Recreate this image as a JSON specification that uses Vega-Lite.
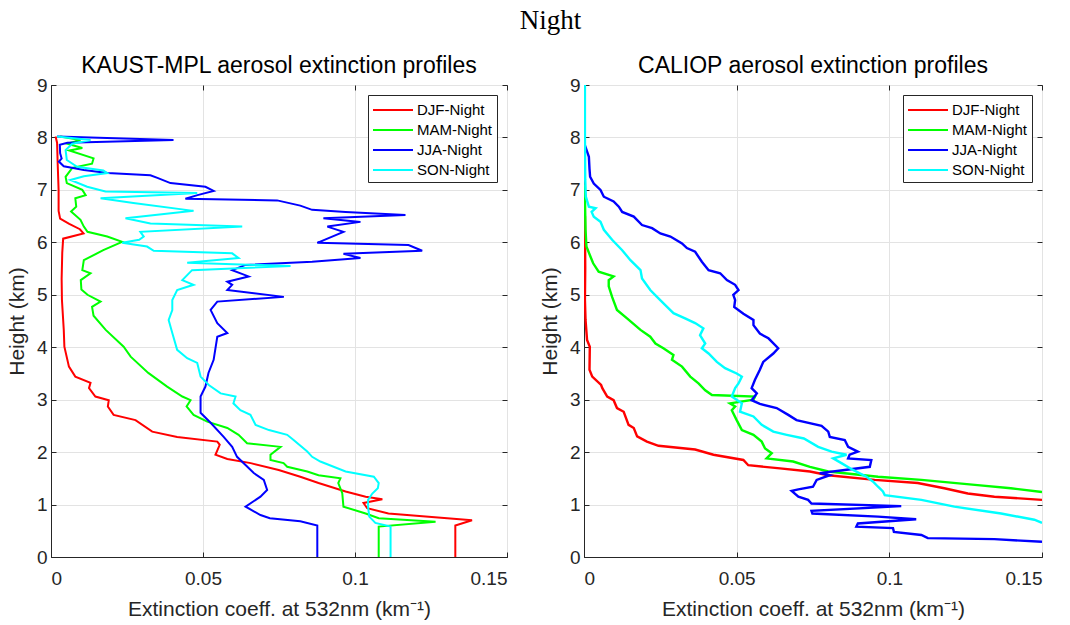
{
  "$schema": "https://vega.github.io/schema/vega-lite/v6.json",
  "background": "white",
  "padding": {"left": 5, "top": 6, "right": 6, "bottom": 2},
  "title": {"text": "Night", "font": "Liberation Serif", "fontSize": 27, "fontWeight": "normal", "color": "black", "anchor": "middle", "offset": 20, "dx": 25},
  "config": {
    "view": {"stroke": "#262626", "strokeWidth": 1},
    "axis": {"labelFont": "Liberation Sans", "titleFont": "Liberation Sans", "labelFontSize": 19, "titleFontSize": 21, "labelColor": "#262626", "titleColor": "#262626", "titleFontWeight": "normal", "domainColor": "#262626", "tickColor": "#262626", "gridColor": "#e3e3e3", "gridOpacity": 1, "tickSize": -5, "labelPadding": 9, "titlePadding": 9},
    "axisX": {"labelPadding": 17, "titlePadding": 10},
    "legend": {"orient": "top-right", "offset": 10, "fillColor": "white", "strokeColor": "#262626", "padding": 4, "cornerRadius": 0, "symbolType": "M-1,0H3", "symbolSize": 400, "symbolStrokeWidth": 2, "labelOffset": 23, "labelFont": "Liberation Sans", "labelFontSize": 15, "labelColor": "black", "rowPadding": 1, "title": null},
    "title": {"font": "Liberation Sans", "fontSize": 23, "fontWeight": "normal", "color": "black", "offset": -2},
    "line": {"strokeWidth": 2}
  },
  "datasets": {
    "mpl": [
      {"season": "DJF-Night", "ext": 0.0015, "height": 8.02},
      {"season": "DJF-Night", "ext": 0.002, "height": 7.9},
      {"season": "DJF-Night", "ext": 0.0022, "height": 7.5},
      {"season": "DJF-Night", "ext": 0.0025, "height": 7.0},
      {"season": "DJF-Night", "ext": 0.0025, "height": 6.6},
      {"season": "DJF-Night", "ext": 0.003, "height": 6.45},
      {"season": "DJF-Night", "ext": 0.006, "height": 6.35},
      {"season": "DJF-Night", "ext": 0.0095, "height": 6.25},
      {"season": "DJF-Night", "ext": 0.0107, "height": 6.17},
      {"season": "DJF-Night", "ext": 0.004, "height": 6.07},
      {"season": "DJF-Night", "ext": 0.0037, "height": 5.8},
      {"season": "DJF-Night", "ext": 0.0035, "height": 5.3},
      {"season": "DJF-Night", "ext": 0.0036, "height": 4.9},
      {"season": "DJF-Night", "ext": 0.0042, "height": 4.33},
      {"season": "DJF-Night", "ext": 0.0044, "height": 4.01},
      {"season": "DJF-Night", "ext": 0.0059, "height": 3.63},
      {"season": "DJF-Night", "ext": 0.008, "height": 3.44},
      {"season": "DJF-Night", "ext": 0.013, "height": 3.32},
      {"season": "DJF-Night", "ext": 0.0125, "height": 3.22},
      {"season": "DJF-Night", "ext": 0.0146, "height": 3.06},
      {"season": "DJF-Night", "ext": 0.019, "height": 2.99},
      {"season": "DJF-Night", "ext": 0.0187, "height": 2.87},
      {"season": "DJF-Night", "ext": 0.0206, "height": 2.71},
      {"season": "DJF-Night", "ext": 0.0278, "height": 2.61},
      {"season": "DJF-Night", "ext": 0.0333, "height": 2.39},
      {"season": "DJF-Night", "ext": 0.0415, "height": 2.29},
      {"season": "DJF-Night", "ext": 0.0547, "height": 2.2},
      {"season": "DJF-Night", "ext": 0.0555, "height": 2.14},
      {"season": "DJF-Night", "ext": 0.0541, "height": 1.95},
      {"season": "DJF-Night", "ext": 0.058, "height": 1.87},
      {"season": "DJF-Night", "ext": 0.0657, "height": 1.79},
      {"season": "DJF-Night", "ext": 0.0749, "height": 1.66},
      {"season": "DJF-Night", "ext": 0.082, "height": 1.53},
      {"season": "DJF-Night", "ext": 0.088, "height": 1.41},
      {"season": "DJF-Night", "ext": 0.0969, "height": 1.25},
      {"season": "DJF-Night", "ext": 0.1035, "height": 1.15},
      {"season": "DJF-Night", "ext": 0.109, "height": 1.1},
      {"season": "DJF-Night", "ext": 0.1028, "height": 1.03},
      {"season": "DJF-Night", "ext": 0.104, "height": 0.93},
      {"season": "DJF-Night", "ext": 0.111, "height": 0.83},
      {"season": "DJF-Night", "ext": 0.1385, "height": 0.7},
      {"season": "DJF-Night", "ext": 0.133, "height": 0.6},
      {"season": "DJF-Night", "ext": 0.133, "height": 0.0},

      {"season": "MAM-Night", "ext": 0.003, "height": 8.02},
      {"season": "MAM-Night", "ext": 0.0097, "height": 7.95},
      {"season": "MAM-Night", "ext": 0.0054, "height": 7.88},
      {"season": "MAM-Night", "ext": 0.0103, "height": 7.8},
      {"season": "MAM-Night", "ext": 0.006, "height": 7.75},
      {"season": "MAM-Night", "ext": 0.014, "height": 7.6},
      {"season": "MAM-Night", "ext": 0.0135, "height": 7.5},
      {"season": "MAM-Night", "ext": 0.007, "height": 7.42},
      {"season": "MAM-Night", "ext": 0.0048, "height": 7.25},
      {"season": "MAM-Night", "ext": 0.0052, "height": 7.13},
      {"season": "MAM-Night", "ext": 0.0103, "height": 7.0},
      {"season": "MAM-Night", "ext": 0.0114, "height": 6.9},
      {"season": "MAM-Night", "ext": 0.008, "height": 6.84},
      {"season": "MAM-Night", "ext": 0.0083, "height": 6.68},
      {"season": "MAM-Night", "ext": 0.0066, "height": 6.59},
      {"season": "MAM-Night", "ext": 0.0097, "height": 6.43},
      {"season": "MAM-Night", "ext": 0.0108, "height": 6.3},
      {"season": "MAM-Night", "ext": 0.012, "height": 6.2},
      {"season": "MAM-Night", "ext": 0.0185, "height": 6.11},
      {"season": "MAM-Night", "ext": 0.0234, "height": 6.01},
      {"season": "MAM-Night", "ext": 0.0172, "height": 5.85},
      {"season": "MAM-Night", "ext": 0.0108, "height": 5.66},
      {"season": "MAM-Night", "ext": 0.0103, "height": 5.47},
      {"season": "MAM-Night", "ext": 0.013, "height": 5.41},
      {"season": "MAM-Night", "ext": 0.0098, "height": 5.28},
      {"season": "MAM-Night", "ext": 0.01, "height": 5.1},
      {"season": "MAM-Night", "ext": 0.012, "height": 5.0},
      {"season": "MAM-Night", "ext": 0.0163, "height": 4.87},
      {"season": "MAM-Night", "ext": 0.0135, "height": 4.77},
      {"season": "MAM-Night", "ext": 0.014, "height": 4.6},
      {"season": "MAM-Night", "ext": 0.018, "height": 4.33},
      {"season": "MAM-Night", "ext": 0.0239, "height": 4.01},
      {"season": "MAM-Night", "ext": 0.0262, "height": 3.82},
      {"season": "MAM-Night", "ext": 0.032, "height": 3.51},
      {"season": "MAM-Night", "ext": 0.0382, "height": 3.25},
      {"season": "MAM-Night", "ext": 0.0432, "height": 3.06},
      {"season": "MAM-Night", "ext": 0.0459, "height": 2.99},
      {"season": "MAM-Night", "ext": 0.0446, "height": 2.87},
      {"season": "MAM-Night", "ext": 0.0469, "height": 2.71},
      {"season": "MAM-Night", "ext": 0.0514, "height": 2.58},
      {"season": "MAM-Night", "ext": 0.058, "height": 2.46},
      {"season": "MAM-Night", "ext": 0.0617, "height": 2.33},
      {"season": "MAM-Night", "ext": 0.0645, "height": 2.17},
      {"season": "MAM-Night", "ext": 0.0755, "height": 2.1},
      {"season": "MAM-Night", "ext": 0.0722, "height": 1.95},
      {"season": "MAM-Night", "ext": 0.0722, "height": 1.85},
      {"season": "MAM-Night", "ext": 0.0765, "height": 1.79},
      {"season": "MAM-Night", "ext": 0.0777, "height": 1.72},
      {"season": "MAM-Night", "ext": 0.0843, "height": 1.63},
      {"season": "MAM-Night", "ext": 0.088, "height": 1.56},
      {"season": "MAM-Night", "ext": 0.0952, "height": 1.5},
      {"season": "MAM-Night", "ext": 0.0945, "height": 1.41},
      {"season": "MAM-Night", "ext": 0.0958, "height": 1.22},
      {"season": "MAM-Night", "ext": 0.0962, "height": 0.96},
      {"season": "MAM-Night", "ext": 0.1035, "height": 0.83},
      {"season": "MAM-Night", "ext": 0.1078, "height": 0.74},
      {"season": "MAM-Night", "ext": 0.1265, "height": 0.67},
      {"season": "MAM-Night", "ext": 0.1078, "height": 0.58},
      {"season": "MAM-Night", "ext": 0.1078, "height": 0.0},

      {"season": "JJA-Night", "ext": 0.002, "height": 8.02},
      {"season": "JJA-Night", "ext": 0.0403, "height": 7.95},
      {"season": "JJA-Night", "ext": 0.0054, "height": 7.9},
      {"season": "JJA-Night", "ext": 0.0029, "height": 7.86},
      {"season": "JJA-Night", "ext": 0.003, "height": 7.7},
      {"season": "JJA-Night", "ext": 0.0035, "height": 7.6},
      {"season": "JJA-Night", "ext": 0.0026, "height": 7.54},
      {"season": "JJA-Night", "ext": 0.0042, "height": 7.45},
      {"season": "JJA-Night", "ext": 0.0108, "height": 7.38},
      {"season": "JJA-Night", "ext": 0.0186, "height": 7.32},
      {"season": "JJA-Night", "ext": 0.0327, "height": 7.28},
      {"season": "JJA-Night", "ext": 0.035, "height": 7.23},
      {"season": "JJA-Night", "ext": 0.0393, "height": 7.13},
      {"season": "JJA-Night", "ext": 0.0508, "height": 7.06},
      {"season": "JJA-Night", "ext": 0.0535, "height": 6.98},
      {"season": "JJA-Night", "ext": 0.0482, "height": 6.9},
      {"season": "JJA-Night", "ext": 0.0442, "height": 6.83},
      {"season": "JJA-Night", "ext": 0.0744, "height": 6.8},
      {"season": "JJA-Night", "ext": 0.082, "height": 6.7},
      {"season": "JJA-Night", "ext": 0.0859, "height": 6.62},
      {"season": "JJA-Night", "ext": 0.0969, "height": 6.58},
      {"season": "JJA-Night", "ext": 0.1166, "height": 6.52},
      {"season": "JJA-Night", "ext": 0.0896, "height": 6.46},
      {"season": "JJA-Night", "ext": 0.1018, "height": 6.39},
      {"season": "JJA-Night", "ext": 0.0909, "height": 6.3},
      {"season": "JJA-Night", "ext": 0.0962, "height": 6.2},
      {"season": "JJA-Night", "ext": 0.0876, "height": 5.99},
      {"season": "JJA-Night", "ext": 0.1176, "height": 5.95},
      {"season": "JJA-Night", "ext": 0.1221, "height": 5.84},
      {"season": "JJA-Night", "ext": 0.0962, "height": 5.78},
      {"season": "JJA-Night", "ext": 0.1018, "height": 5.7},
      {"season": "JJA-Night", "ext": 0.0859, "height": 5.63},
      {"season": "JJA-Night", "ext": 0.064, "height": 5.57},
      {"season": "JJA-Night", "ext": 0.0596, "height": 5.47},
      {"season": "JJA-Night", "ext": 0.065, "height": 5.35},
      {"season": "JJA-Night", "ext": 0.058, "height": 5.25},
      {"season": "JJA-Night", "ext": 0.0596, "height": 5.19},
      {"season": "JJA-Night", "ext": 0.058, "height": 5.09},
      {"season": "JJA-Night", "ext": 0.0766, "height": 4.96},
      {"season": "JJA-Night", "ext": 0.0547, "height": 4.87},
      {"season": "JJA-Night", "ext": 0.0525, "height": 4.71},
      {"season": "JJA-Night", "ext": 0.0547, "height": 4.46},
      {"season": "JJA-Night", "ext": 0.058, "height": 4.27},
      {"season": "JJA-Night", "ext": 0.0547, "height": 4.2},
      {"season": "JJA-Night", "ext": 0.0535, "height": 3.76},
      {"season": "JJA-Night", "ext": 0.0518, "height": 3.51},
      {"season": "JJA-Night", "ext": 0.0508, "height": 3.25},
      {"season": "JJA-Night", "ext": 0.0492, "height": 3.06},
      {"season": "JJA-Night", "ext": 0.0492, "height": 2.75},
      {"season": "JJA-Night", "ext": 0.0525, "height": 2.56},
      {"season": "JJA-Night", "ext": 0.0568, "height": 2.29},
      {"season": "JJA-Night", "ext": 0.0596, "height": 2.1},
      {"season": "JJA-Night", "ext": 0.0612, "height": 1.91},
      {"season": "JJA-Night", "ext": 0.0667, "height": 1.6},
      {"season": "JJA-Night", "ext": 0.07, "height": 1.47},
      {"season": "JJA-Night", "ext": 0.0711, "height": 1.28},
      {"season": "JJA-Night", "ext": 0.0689, "height": 1.15},
      {"season": "JJA-Night", "ext": 0.064, "height": 0.96},
      {"season": "JJA-Night", "ext": 0.0689, "height": 0.8},
      {"season": "JJA-Night", "ext": 0.072, "height": 0.74},
      {"season": "JJA-Night", "ext": 0.082, "height": 0.68},
      {"season": "JJA-Night", "ext": 0.0876, "height": 0.6},
      {"season": "JJA-Night", "ext": 0.0876, "height": 0.0},

      {"season": "SON-Night", "ext": 0.002, "height": 8.02},
      {"season": "SON-Night", "ext": 0.013, "height": 7.95},
      {"season": "SON-Night", "ext": 0.007, "height": 7.88},
      {"season": "SON-Night", "ext": 0.0048, "height": 7.76},
      {"season": "SON-Night", "ext": 0.0052, "height": 7.57},
      {"season": "SON-Night", "ext": 0.0086, "height": 7.44},
      {"season": "SON-Night", "ext": 0.0172, "height": 7.37},
      {"season": "SON-Night", "ext": 0.0185, "height": 7.32},
      {"season": "SON-Night", "ext": 0.0108, "height": 7.26},
      {"season": "SON-Night", "ext": 0.0064, "height": 7.19},
      {"season": "SON-Night", "ext": 0.0119, "height": 7.06},
      {"season": "SON-Night", "ext": 0.0179, "height": 6.97},
      {"season": "SON-Night", "ext": 0.0481, "height": 6.94},
      {"season": "SON-Night", "ext": 0.0163, "height": 6.84},
      {"season": "SON-Night", "ext": 0.0271, "height": 6.75},
      {"season": "SON-Night", "ext": 0.0469, "height": 6.6},
      {"season": "SON-Night", "ext": 0.0245, "height": 6.46},
      {"season": "SON-Night", "ext": 0.0327, "height": 6.36},
      {"season": "SON-Night", "ext": 0.0629, "height": 6.3},
      {"season": "SON-Night", "ext": 0.0294, "height": 6.2},
      {"season": "SON-Night", "ext": 0.0305, "height": 6.11},
      {"season": "SON-Night", "ext": 0.029, "height": 6.05},
      {"season": "SON-Night", "ext": 0.0234, "height": 5.99},
      {"season": "SON-Night", "ext": 0.0316, "height": 5.92},
      {"season": "SON-Night", "ext": 0.0338, "height": 5.84},
      {"season": "SON-Night", "ext": 0.0596, "height": 5.79},
      {"season": "SON-Night", "ext": 0.0617, "height": 5.7},
      {"season": "SON-Night", "ext": 0.0448, "height": 5.61},
      {"season": "SON-Night", "ext": 0.0788, "height": 5.55},
      {"season": "SON-Night", "ext": 0.0464, "height": 5.47},
      {"season": "SON-Night", "ext": 0.0432, "height": 5.28},
      {"season": "SON-Night", "ext": 0.0469, "height": 5.19},
      {"season": "SON-Night", "ext": 0.0415, "height": 5.09},
      {"season": "SON-Night", "ext": 0.0399, "height": 4.9},
      {"season": "SON-Night", "ext": 0.0399, "height": 4.71},
      {"season": "SON-Night", "ext": 0.0387, "height": 4.52},
      {"season": "SON-Night", "ext": 0.0399, "height": 4.27},
      {"season": "SON-Night", "ext": 0.0415, "height": 3.95},
      {"season": "SON-Night", "ext": 0.0448, "height": 3.79},
      {"season": "SON-Night", "ext": 0.0481, "height": 3.7},
      {"season": "SON-Night", "ext": 0.0492, "height": 3.44},
      {"season": "SON-Night", "ext": 0.0519, "height": 3.28},
      {"season": "SON-Night", "ext": 0.0558, "height": 3.12},
      {"season": "SON-Night", "ext": 0.0607, "height": 3.06},
      {"season": "SON-Night", "ext": 0.06, "height": 2.93},
      {"season": "SON-Night", "ext": 0.0623, "height": 2.8},
      {"season": "SON-Night", "ext": 0.0656, "height": 2.71},
      {"season": "SON-Night", "ext": 0.0673, "height": 2.52},
      {"season": "SON-Night", "ext": 0.0717, "height": 2.42},
      {"season": "SON-Night", "ext": 0.0777, "height": 2.33},
      {"season": "SON-Night", "ext": 0.0798, "height": 2.23},
      {"season": "SON-Night", "ext": 0.0843, "height": 2.01},
      {"season": "SON-Night", "ext": 0.0859, "height": 1.91},
      {"season": "SON-Night", "ext": 0.0886, "height": 1.82},
      {"season": "SON-Night", "ext": 0.0969, "height": 1.63},
      {"season": "SON-Night", "ext": 0.1062, "height": 1.53},
      {"season": "SON-Night", "ext": 0.1078, "height": 1.41},
      {"season": "SON-Night", "ext": 0.1075, "height": 1.31},
      {"season": "SON-Night", "ext": 0.1057, "height": 1.21},
      {"season": "SON-Night", "ext": 0.1043, "height": 1.09},
      {"season": "SON-Night", "ext": 0.1043, "height": 0.95},
      {"season": "SON-Night", "ext": 0.1047, "height": 0.77},
      {"season": "SON-Night", "ext": 0.1067, "height": 0.65},
      {"season": "SON-Night", "ext": 0.1117, "height": 0.58},
      {"season": "SON-Night", "ext": 0.1117, "height": 0.0}
    ],
    "caliop": [
      {"season": "DJF-Night", "ext": 0.0003, "height": 6.5},
      {"season": "DJF-Night", "ext": 0.0004, "height": 5.5},
      {"season": "DJF-Night", "ext": 0.0003, "height": 4.9},
      {"season": "DJF-Night", "ext": 0.0005, "height": 4.52},
      {"season": "DJF-Night", "ext": 0.001, "height": 4.14},
      {"season": "DJF-Night", "ext": 0.0019, "height": 4.01},
      {"season": "DJF-Night", "ext": 0.0018, "height": 3.57},
      {"season": "DJF-Night", "ext": 0.0027, "height": 3.44},
      {"season": "DJF-Night", "ext": 0.0056, "height": 3.28},
      {"season": "DJF-Night", "ext": 0.006, "height": 3.22},
      {"season": "DJF-Night", "ext": 0.0076, "height": 3.06},
      {"season": "DJF-Night", "ext": 0.0097, "height": 2.99},
      {"season": "DJF-Night", "ext": 0.0108, "height": 2.84},
      {"season": "DJF-Night", "ext": 0.013, "height": 2.77},
      {"season": "DJF-Night", "ext": 0.0146, "height": 2.52},
      {"season": "DJF-Night", "ext": 0.0163, "height": 2.46},
      {"season": "DJF-Night", "ext": 0.0174, "height": 2.3},
      {"season": "DJF-Night", "ext": 0.0206, "height": 2.2},
      {"season": "DJF-Night", "ext": 0.0244, "height": 2.12},
      {"season": "DJF-Night", "ext": 0.0364, "height": 2.05},
      {"season": "DJF-Night", "ext": 0.0424, "height": 1.95},
      {"season": "DJF-Night", "ext": 0.0522, "height": 1.85},
      {"season": "DJF-Night", "ext": 0.0538, "height": 1.75},
      {"season": "DJF-Night", "ext": 0.0642, "height": 1.69},
      {"season": "DJF-Night", "ext": 0.074, "height": 1.63},
      {"season": "DJF-Night", "ext": 0.08, "height": 1.56},
      {"season": "DJF-Night", "ext": 0.0952, "height": 1.47},
      {"season": "DJF-Night", "ext": 0.1093, "height": 1.41},
      {"season": "DJF-Night", "ext": 0.118, "height": 1.31},
      {"season": "DJF-Night", "ext": 0.1257, "height": 1.21},
      {"season": "DJF-Night", "ext": 0.1344, "height": 1.15},
      {"season": "DJF-Night", "ext": 0.15, "height": 1.09},

      {"season": "MAM-Night", "ext": 0.0002, "height": 7.1},
      {"season": "MAM-Night", "ext": 0.0003, "height": 6.86},
      {"season": "MAM-Night", "ext": 0.0005, "height": 6.24},
      {"season": "MAM-Night", "ext": 0.0008, "height": 5.92},
      {"season": "MAM-Night", "ext": 0.0021, "height": 5.73},
      {"season": "MAM-Night", "ext": 0.003, "height": 5.6},
      {"season": "MAM-Night", "ext": 0.0048, "height": 5.44},
      {"season": "MAM-Night", "ext": 0.0097, "height": 5.35},
      {"season": "MAM-Night", "ext": 0.0081, "height": 5.28},
      {"season": "MAM-Night", "ext": 0.0081, "height": 5.16},
      {"season": "MAM-Night", "ext": 0.0092, "height": 4.96},
      {"season": "MAM-Night", "ext": 0.0108, "height": 4.71},
      {"season": "MAM-Night", "ext": 0.0141, "height": 4.55},
      {"season": "MAM-Night", "ext": 0.0185, "height": 4.33},
      {"season": "MAM-Night", "ext": 0.0217, "height": 4.2},
      {"season": "MAM-Night", "ext": 0.0234, "height": 4.07},
      {"season": "MAM-Night", "ext": 0.026, "height": 3.98},
      {"season": "MAM-Night", "ext": 0.0293, "height": 3.85},
      {"season": "MAM-Night", "ext": 0.0288, "height": 3.76},
      {"season": "MAM-Night", "ext": 0.0321, "height": 3.63},
      {"season": "MAM-Night", "ext": 0.0348, "height": 3.44},
      {"season": "MAM-Night", "ext": 0.0375, "height": 3.31},
      {"season": "MAM-Night", "ext": 0.0397, "height": 3.18},
      {"season": "MAM-Night", "ext": 0.0419, "height": 3.09},
      {"season": "MAM-Night", "ext": 0.056, "height": 3.06},
      {"season": "MAM-Night", "ext": 0.0555, "height": 3.0},
      {"season": "MAM-Night", "ext": 0.0478, "height": 2.93},
      {"season": "MAM-Night", "ext": 0.0495, "height": 2.87},
      {"season": "MAM-Night", "ext": 0.0484, "height": 2.8},
      {"season": "MAM-Night", "ext": 0.05, "height": 2.61},
      {"season": "MAM-Night", "ext": 0.0517, "height": 2.42},
      {"season": "MAM-Night", "ext": 0.0555, "height": 2.33},
      {"season": "MAM-Night", "ext": 0.0582, "height": 2.2},
      {"season": "MAM-Night", "ext": 0.0593, "height": 2.07},
      {"season": "MAM-Night", "ext": 0.0615, "height": 1.98},
      {"season": "MAM-Night", "ext": 0.0598, "height": 1.88},
      {"season": "MAM-Night", "ext": 0.0685, "height": 1.82},
      {"season": "MAM-Night", "ext": 0.074, "height": 1.72},
      {"season": "MAM-Night", "ext": 0.08, "height": 1.63},
      {"season": "MAM-Night", "ext": 0.0963, "height": 1.53},
      {"season": "MAM-Night", "ext": 0.1105, "height": 1.47},
      {"season": "MAM-Night", "ext": 0.1289, "height": 1.37},
      {"season": "MAM-Night", "ext": 0.1398, "height": 1.31},
      {"season": "MAM-Night", "ext": 0.15, "height": 1.24},

      {"season": "JJA-Night", "ext": 0.0003, "height": 7.85},
      {"season": "JJA-Night", "ext": 0.0016, "height": 7.63},
      {"season": "JJA-Night", "ext": 0.0018, "height": 7.4},
      {"season": "JJA-Night", "ext": 0.002, "height": 7.25},
      {"season": "JJA-Night", "ext": 0.0032, "height": 7.12},
      {"season": "JJA-Night", "ext": 0.0054, "height": 7.0},
      {"season": "JJA-Night", "ext": 0.0065, "height": 6.87},
      {"season": "JJA-Night", "ext": 0.0097, "height": 6.78},
      {"season": "JJA-Night", "ext": 0.0114, "height": 6.68},
      {"season": "JJA-Night", "ext": 0.0125, "height": 6.58},
      {"season": "JJA-Night", "ext": 0.0163, "height": 6.49},
      {"season": "JJA-Night", "ext": 0.019, "height": 6.33},
      {"season": "JJA-Night", "ext": 0.0223, "height": 6.27},
      {"season": "JJA-Night", "ext": 0.025, "height": 6.17},
      {"season": "JJA-Night", "ext": 0.0283, "height": 6.11},
      {"season": "JJA-Night", "ext": 0.0321, "height": 5.98},
      {"season": "JJA-Night", "ext": 0.0337, "height": 5.89},
      {"season": "JJA-Night", "ext": 0.0364, "height": 5.82},
      {"season": "JJA-Night", "ext": 0.0386, "height": 5.63},
      {"season": "JJA-Night", "ext": 0.0408, "height": 5.47},
      {"season": "JJA-Night", "ext": 0.0446, "height": 5.41},
      {"season": "JJA-Night", "ext": 0.0468, "height": 5.28},
      {"season": "JJA-Night", "ext": 0.0495, "height": 5.19},
      {"season": "JJA-Night", "ext": 0.0506, "height": 5.09},
      {"season": "JJA-Night", "ext": 0.0489, "height": 5.0},
      {"season": "JJA-Night", "ext": 0.0495, "height": 4.9},
      {"season": "JJA-Night", "ext": 0.0492, "height": 4.77},
      {"season": "JJA-Night", "ext": 0.0522, "height": 4.64},
      {"season": "JJA-Night", "ext": 0.0555, "height": 4.52},
      {"season": "JJA-Night", "ext": 0.0555, "height": 4.42},
      {"season": "JJA-Night", "ext": 0.0576, "height": 4.26},
      {"season": "JJA-Night", "ext": 0.0604, "height": 4.17},
      {"season": "JJA-Night", "ext": 0.0636, "height": 3.98},
      {"season": "JJA-Night", "ext": 0.062, "height": 3.88},
      {"season": "JJA-Night", "ext": 0.0587, "height": 3.72},
      {"season": "JJA-Night", "ext": 0.0576, "height": 3.57},
      {"season": "JJA-Night", "ext": 0.056, "height": 3.38},
      {"season": "JJA-Night", "ext": 0.0549, "height": 3.22},
      {"season": "JJA-Night", "ext": 0.0566, "height": 3.12},
      {"season": "JJA-Night", "ext": 0.0549, "height": 2.99},
      {"season": "JJA-Night", "ext": 0.0576, "height": 2.92},
      {"season": "JJA-Night", "ext": 0.0631, "height": 2.84},
      {"season": "JJA-Night", "ext": 0.0669, "height": 2.71},
      {"season": "JJA-Night", "ext": 0.0696, "height": 2.61},
      {"season": "JJA-Night", "ext": 0.0778, "height": 2.5},
      {"season": "JJA-Night", "ext": 0.08, "height": 2.39},
      {"season": "JJA-Night", "ext": 0.0805, "height": 2.29},
      {"season": "JJA-Night", "ext": 0.0854, "height": 2.23},
      {"season": "JJA-Night", "ext": 0.0865, "height": 2.1},
      {"season": "JJA-Night", "ext": 0.0897, "height": 2.01},
      {"season": "JJA-Night", "ext": 0.087, "height": 1.95},
      {"season": "JJA-Night", "ext": 0.0865, "height": 1.88},
      {"season": "JJA-Night", "ext": 0.0941, "height": 1.85},
      {"season": "JJA-Night", "ext": 0.0936, "height": 1.72},
      {"season": "JJA-Night", "ext": 0.0854, "height": 1.66},
      {"season": "JJA-Night", "ext": 0.0772, "height": 1.6},
      {"season": "JJA-Night", "ext": 0.0805, "height": 1.56},
      {"season": "JJA-Night", "ext": 0.0762, "height": 1.47},
      {"season": "JJA-Night", "ext": 0.075, "height": 1.34},
      {"season": "JJA-Night", "ext": 0.0702, "height": 1.29},
      {"season": "JJA-Night", "ext": 0.068, "height": 1.26},
      {"season": "JJA-Night", "ext": 0.0702, "height": 1.15},
      {"season": "JJA-Night", "ext": 0.0734, "height": 1.09},
      {"season": "JJA-Night", "ext": 0.0745, "height": 1.02},
      {"season": "JJA-Night", "ext": 0.1039, "height": 0.97},
      {"season": "JJA-Night", "ext": 0.0745, "height": 0.88},
      {"season": "JJA-Night", "ext": 0.0748, "height": 0.83},
      {"season": "JJA-Night", "ext": 0.0963, "height": 0.77},
      {"season": "JJA-Night", "ext": 0.1088, "height": 0.72},
      {"season": "JJA-Night", "ext": 0.0897, "height": 0.64},
      {"season": "JJA-Night", "ext": 0.0892, "height": 0.58},
      {"season": "JJA-Night", "ext": 0.1012, "height": 0.55},
      {"season": "JJA-Night", "ext": 0.1015, "height": 0.48},
      {"season": "JJA-Night", "ext": 0.1105, "height": 0.42},
      {"season": "JJA-Night", "ext": 0.1126, "height": 0.36},
      {"season": "JJA-Night", "ext": 0.1344, "height": 0.34},
      {"season": "JJA-Night", "ext": 0.15, "height": 0.29},

      {"season": "SON-Night", "ext": 0.0003, "height": 9.0},
      {"season": "SON-Night", "ext": 0.0003, "height": 8.0},
      {"season": "SON-Night", "ext": 0.0004, "height": 7.2},
      {"season": "SON-Night", "ext": 0.0006, "height": 6.87},
      {"season": "SON-Night", "ext": 0.0016, "height": 6.68},
      {"season": "SON-Night", "ext": 0.0038, "height": 6.65},
      {"season": "SON-Night", "ext": 0.0025, "height": 6.58},
      {"season": "SON-Night", "ext": 0.0032, "height": 6.49},
      {"season": "SON-Night", "ext": 0.0054, "height": 6.39},
      {"season": "SON-Night", "ext": 0.0065, "height": 6.24},
      {"season": "SON-Night", "ext": 0.0092, "height": 6.05},
      {"season": "SON-Night", "ext": 0.0125, "height": 5.85},
      {"season": "SON-Night", "ext": 0.0152, "height": 5.66},
      {"season": "SON-Night", "ext": 0.0185, "height": 5.47},
      {"season": "SON-Night", "ext": 0.019, "height": 5.31},
      {"season": "SON-Night", "ext": 0.0217, "height": 5.09},
      {"season": "SON-Night", "ext": 0.0239, "height": 4.96},
      {"season": "SON-Night", "ext": 0.0272, "height": 4.77},
      {"season": "SON-Night", "ext": 0.0293, "height": 4.65},
      {"season": "SON-Night", "ext": 0.0331, "height": 4.55},
      {"season": "SON-Night", "ext": 0.0364, "height": 4.46},
      {"season": "SON-Night", "ext": 0.0391, "height": 4.36},
      {"season": "SON-Night", "ext": 0.038, "height": 4.23},
      {"season": "SON-Night", "ext": 0.0397, "height": 4.07},
      {"season": "SON-Night", "ext": 0.0386, "height": 3.98},
      {"season": "SON-Night", "ext": 0.0408, "height": 3.88},
      {"season": "SON-Night", "ext": 0.0435, "height": 3.72},
      {"season": "SON-Night", "ext": 0.0462, "height": 3.6},
      {"season": "SON-Night", "ext": 0.05, "height": 3.5},
      {"season": "SON-Night", "ext": 0.0517, "height": 3.44},
      {"season": "SON-Night", "ext": 0.0506, "height": 3.31},
      {"season": "SON-Night", "ext": 0.0495, "height": 3.22},
      {"season": "SON-Night", "ext": 0.0484, "height": 3.06},
      {"season": "SON-Night", "ext": 0.0517, "height": 2.93},
      {"season": "SON-Night", "ext": 0.0511, "height": 2.77},
      {"season": "SON-Night", "ext": 0.0555, "height": 2.68},
      {"season": "SON-Night", "ext": 0.0582, "height": 2.52},
      {"season": "SON-Night", "ext": 0.062, "height": 2.39},
      {"season": "SON-Night", "ext": 0.0664, "height": 2.33},
      {"season": "SON-Night", "ext": 0.072, "height": 2.26},
      {"season": "SON-Night", "ext": 0.0767, "height": 2.1},
      {"season": "SON-Night", "ext": 0.0811, "height": 2.01},
      {"season": "SON-Night", "ext": 0.086, "height": 1.95},
      {"season": "SON-Night", "ext": 0.0816, "height": 1.88},
      {"season": "SON-Night", "ext": 0.0843, "height": 1.79},
      {"season": "SON-Night", "ext": 0.0881, "height": 1.66},
      {"season": "SON-Night", "ext": 0.0925, "height": 1.53},
      {"season": "SON-Night", "ext": 0.0946, "height": 1.44},
      {"season": "SON-Night", "ext": 0.0963, "height": 1.34},
      {"season": "SON-Night", "ext": 0.0979, "height": 1.25},
      {"season": "SON-Night", "ext": 0.0985, "height": 1.18},
      {"season": "SON-Night", "ext": 0.1105, "height": 1.09},
      {"season": "SON-Night", "ext": 0.1213, "height": 0.96},
      {"season": "SON-Night", "ext": 0.1366, "height": 0.83},
      {"season": "SON-Night", "ext": 0.1475, "height": 0.71},
      {"season": "SON-Night", "ext": 0.15, "height": 0.65}
    ]
  },
  "spacing": 30,
  "hconcat": [
    {
      "title": {"text": "KAUST-MPL aerosol extinction profiles"},
      "width": 456,
      "height": 472,
      "data": {"name": "mpl"},
      "layer": [
        {
          "mark": {"type": "line", "strokeWidth": 2, "clip": true},
          "encoding": {
            "x": {"field": "ext", "type": "quantitative", "scale": {"domain": [0, 0.15], "nice": false}, "axis": {"values": [0, 0.05, 0.1, 0.15], "title": "Extinction coeff. at 532nm (km⁻¹)", "format": ".2~f"}},
            "y": {"field": "height", "type": "quantitative", "scale": {"domain": [0, 9], "nice": false}, "axis": {"values": [0, 1, 2, 3, 4, 5, 6, 7, 8, 9], "title": "Height (km)"}},
            "color": {"field": "season", "type": "nominal", "scale": {"domain": ["DJF-Night", "MAM-Night", "JJA-Night", "SON-Night"], "range": ["#ff0000", "#00ff00", "#0000ff", "#00ffff"]}, "legend": {"title": null}},
            "order": {"field": "height", "type": "quantitative"}
          }
        },
        {
          "mark": {"type": "point", "opacity": 0},
          "encoding": {
            "x": {"field": "ext", "type": "quantitative", "axis": {"orient": "top", "values": [0, 0.05, 0.1, 0.15], "labels": false, "title": null, "grid": false, "domain": false}},
            "y": {"field": "height", "type": "quantitative", "axis": {"orient": "right", "values": [0, 1, 2, 3, 4, 5, 6, 7, 8, 9], "labels": false, "title": null, "grid": false, "domain": false}}
          }
        }
      ],
      "resolve": {"axis": {"x": "independent", "y": "independent"}}
    },
    {
      "title": {"text": "CALIOP aerosol extinction profiles"},
      "width": 458,
      "height": 472,
      "data": {"name": "caliop"},
      "layer": [
        {
          "mark": {"type": "line", "strokeWidth": 2.4, "clip": true},
          "encoding": {
            "x": {"field": "ext", "type": "quantitative", "scale": {"domain": [0, 0.15], "nice": false}, "axis": {"values": [0, 0.05, 0.1, 0.15], "title": "Extinction coeff. at 532nm (km⁻¹)", "format": ".2~f"}},
            "y": {"field": "height", "type": "quantitative", "scale": {"domain": [0, 9], "nice": false}, "axis": {"values": [0, 1, 2, 3, 4, 5, 6, 7, 8, 9], "title": "Height (km)"}},
            "color": {"field": "season", "type": "nominal", "scale": {"domain": ["DJF-Night", "MAM-Night", "JJA-Night", "SON-Night"], "range": ["#ff0000", "#00ff00", "#0000ff", "#00ffff"]}, "legend": {"title": null}},
            "order": {"field": "height", "type": "quantitative"}
          }
        },
        {
          "mark": {"type": "point", "opacity": 0},
          "encoding": {
            "x": {"field": "ext", "type": "quantitative", "axis": {"orient": "top", "values": [0, 0.05, 0.1, 0.15], "labels": false, "title": null, "grid": false, "domain": false}},
            "y": {"field": "height", "type": "quantitative", "axis": {"orient": "right", "values": [0, 1, 2, 3, 4, 5, 6, 7, 8, 9], "labels": false, "title": null, "grid": false, "domain": false}}
          }
        }
      ],
      "resolve": {"axis": {"x": "independent", "y": "independent"}}
    }
  ],
  "resolve": {"scale": {"color": "independent"}}
}
